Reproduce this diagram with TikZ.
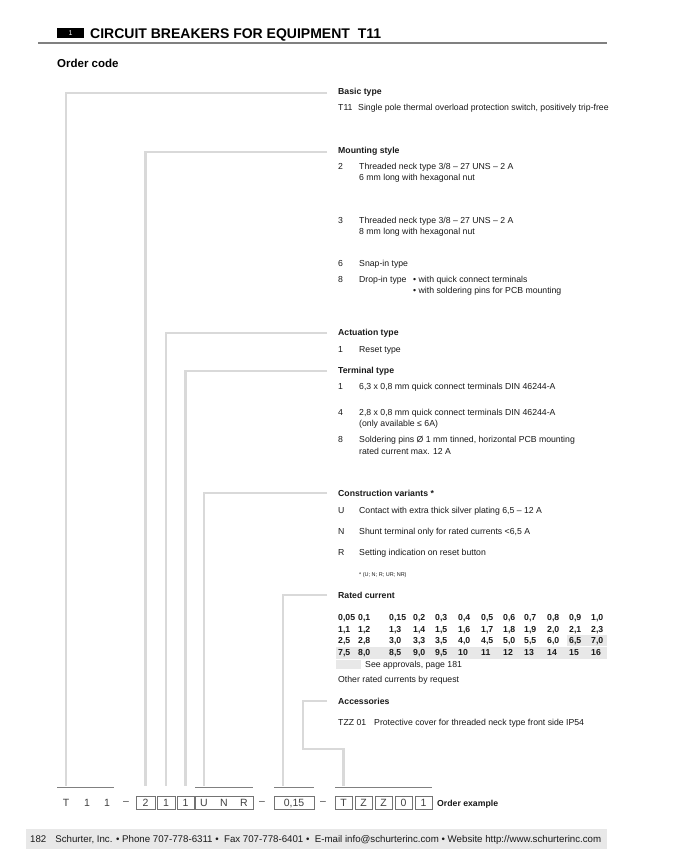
\documentclass[tikz,border=0pt]{standalone}
\usepackage{fontspec}
\setmainfont{Liberation Sans}
\newcommand\fsbody{\fontsize{8.7}{10}\selectfont}
\newcommand\fscode{\fontsize{10.5}{12}\selectfont}
\newcommand\fssmall{\fontsize{5.5}{6.5}\selectfont}
\begin{document}
\begin{tikzpicture}[x=1pt,y=-1pt,
  txt/.style={anchor=base west,inner sep=0pt,font=\fsbody,text=black!90},
  head/.style={txt,font=\fsbody\bfseries},
  tnum/.style={txt,font=\fsbody\bfseries},
  bracket/.style={draw=black!15,line width=2.2pt},
  topline/.style={draw=black!50,line width=0.6pt},
  cbox/.style={draw=black!55,line width=0.6pt,minimum height=13.5pt,inner sep=0pt,font=\fscode,text=black!75},
  cletter/.style={inner sep=0pt,font=\fscode,text=black!75},
  shade/.style={fill=black!9,draw=none}]
\useasboundingbox (0,0) rectangle (676,850);

% header
\node[fill=black,minimum width=27pt,minimum height=10pt,inner sep=0pt,text=white,font=\fontsize{7}{8}\selectfont] (badge) at (70.5,33.5) {1};
\node[anchor=base west,inner sep=0pt,font=\fontsize{14}{16}\selectfont\bfseries] (title) at (90,38.5) {CIRCUIT BREAKERS FOR EQUIPMENT\ \ T11};
\draw[draw=black!50,line width=1.2pt] (38,43) -- (607,43);
\node[anchor=base west,inner sep=0pt,font=\fontsize{11.5}{13}\selectfont\bfseries] (ordercode) at (57,68) {Order code};

% Basic type
\node[head] (hBasic) at (338,95) {Basic type};
\node[txt] (b1k) at (338,111) {T11};
\node[txt] (b1t) at (358,111) {Single pole thermal overload protection switch, positively trip-free};

% Mounting style
\node[head] (hMount) at (338,154) {Mounting style};
\node[txt] (m2k) at (338,170) {2};
\node[txt] (m2t) at (359,170) {Threaded neck type 3/8 – 27 UNS – 2 A};
\node[txt] (m2u) at (359,181) {6 mm long with hexagonal nut};
\node[txt] (m3k) at (338,223) {3};
\node[txt] (m3t) at (359,223) {Threaded neck type 3/8 – 27 UNS – 2 A};
\node[txt] (m3u) at (359,234) {8 mm long with hexagonal nut};
\node[txt] (m6k) at (338,266) {6};
\node[txt] (m6t) at (359,266) {Snap-in type};
\node[txt] (m8k) at (338,282) {8};
\node[txt] (m8t) at (359,282) {Drop-in type};
\node[txt] (m8a) at (413,282) {\textbullet\ with quick connect terminals};
\node[txt] (m8b) at (413,293) {\textbullet\ with soldering pins for PCB mounting};

% Actuation type
\node[head] (hAct) at (338,335) {Actuation type};
\node[txt] (a1k) at (338,352) {1};
\node[txt] (a1t) at (359,352) {Reset type};

% Terminal type
\node[head] (hTerm) at (338,373) {Terminal type};
\node[txt] (t1k) at (338,389) {1};
\node[txt] (t1t) at (359,389) {6,3 x 0,8 mm quick connect terminals DIN 46244-A};
\node[txt] (t4k) at (338,415) {4};
\node[txt] (t4t) at (359,415) {2,8 x 0,8 mm quick connect terminals DIN 46244-A};
\node[txt] (t4u) at (359,426) {(only available ≤ 6A)};
\node[txt] (t8k) at (338,442) {8};
\node[txt] (t8t) at (359,442) {Soldering pins Ø 1 mm tinned, horizontal PCB mounting};
\node[txt] (t8u) at (359,454) {rated current max. 12 A};

% Construction variants
\node[head] (hCons) at (338,496) {Construction variants *};
\node[txt] (cuk) at (338,513) {U};
\node[txt] (cut) at (359,513) {Contact with extra thick silver plating 6,5 – 12 A};
\node[txt] (cnk) at (338,534) {N};
\node[txt] (cnt) at (359,534) {Shunt terminal only for rated currents <6,5 A};
\node[txt] (crk) at (338,555) {R};
\node[txt] (crt) at (359,555) {Setting indication on reset button};
\node[txt,font=\fssmall] (cnote) at (359,576) {* (U; N; R; UR; NR)};

% Rated current
\node[head] (hRated) at (338,598) {Rated current};
\fill[shade] (567,635) rectangle (607,646);
\fill[shade] (336,647) rectangle (607,659);
\foreach \v [count=\c] in {{0,05},{0,1},{0,15},{0,2},{0,3},{0,4},{0,5},{0,6},{0,7},{0,8},{0,9},{1,0}}
  {\pgfmathsetmacro\cx{{338,358,389,413,435,458,481,503,524,547,569,591}[\c-1]}
   \node[tnum] (ra\c) at (\cx,620) {\v};}
\foreach \v [count=\c] in {{1,1},{1,2},{1,3},{1,4},{1,5},{1,6},{1,7},{1,8},{1,9},{2,0},{2,1},{2,3}}
  {\pgfmathsetmacro\cx{{338,358,389,413,435,458,481,503,524,547,569,591}[\c-1]}
   \node[tnum] (rb\c) at (\cx,632) {\v};}
\foreach \v [count=\c] in {{2,5},{2,8},{3,0},{3,3},{3,5},{4,0},{4,5},{5,0},{5,5},{6,0},{6,5},{7,0}}
  {\pgfmathsetmacro\cx{{338,358,389,413,435,458,481,503,524,547,569,591}[\c-1]}
   \node[tnum] (rc\c) at (\cx,643) {\v};}
\foreach \v [count=\c] in {{7,5},{8,0},{8,5},{9,0},{9,5},10,11,12,13,14,15,16}
  {\pgfmathsetmacro\cx{{338,358,389,413,435,458,481,503,524,547,569,591}[\c-1]}
   \node[tnum] (rd\c) at (\cx,655.5) {\v};}
\fill[shade] (336,660) rectangle (361,669);
\node[txt] (rsee) at (365,667) {See approvals, page 181};
\node[txt] (rother) at (338,682) {Other rated currents by request};

% Accessories
\node[head] (hAcc) at (338,704) {Accessories};
\node[txt] (acck) at (338,725) {TZZ 01};
\node[txt] (acct) at (374,725) {Protective cover for threaded neck type front side IP54};

% order example code row
\coordinate (barend) at (0,786);
\node[cletter] (cT) at (66,803) {T};
\node[cletter] (c1x) at (87,803) {1};
\node[cletter] (c1y) at (107,803) {1};
\node[cletter] (d1) at (126,802.5) {–};
\node[cbox,minimum width=19pt] (c2) at (145.5,803) {2};
\node[cbox,minimum width=18pt] (c1a) at (166,803) {1};
\node[cbox,minimum width=17pt] (c1b) at (185.5,803) {1};
\node[cbox,minimum width=58pt] (cUNR) at (224,803) {};
\node[cletter] (cU) at (204,803) {U};
\node[cletter] (cN) at (224,803) {N};
\node[cletter] (cR) at (244,803) {R};
\node[cletter] (d2) at (262,802.5) {–};
\node[cbox,minimum width=40pt] (c015) at (294,803) {0,15};
\node[cletter] (d3) at (323,802.5) {–};
\node[cbox,minimum width=17pt] (cTa) at (343.5,803) {T};
\node[cbox,minimum width=17pt] (cZa) at (363.5,803) {Z};
\node[cbox,minimum width=17pt] (cZb) at (383.5,803) {Z};
\node[cbox,minimum width=17pt] (cO) at (403.5,803) {0};
\node[cbox,minimum width=17pt] (c1c) at (423.5,803) {1};
\node[head] (oex) at (437,806.5) {Order example};
\draw[topline] (57,787) -- (114,787);
\draw[topline] (195,787) -- (253,787);
\draw[topline] (274,787) -- (314,787);
\draw[topline] (335,787) -- (432,787);

% brackets
\draw[bracket] ([xshift=-11pt]hBasic.west) -| (cT |- barend);
\draw[bracket] ([xshift=-11pt]hMount.west) -| (c2 |- barend);
\draw[bracket] ([xshift=-11pt]hAct.west) -| (c1a |- barend);
\draw[bracket] ([xshift=-11pt]hTerm.west) -| (c1b |- barend);
\draw[bracket] ([xshift=-11pt]hCons.west) -| (cU |- barend);
\coordinate (eR) at (283,786);
\draw[bracket] ([xshift=-11pt]hRated.west) -| (eR);
\coordinate (accCorner) at (303,749);
\draw[bracket] ([xshift=-11pt]hAcc.west) -| (accCorner) -| (cTa |- barend);

% footer
\fill[black!9] (26,829) rectangle (607,849);
\node[anchor=base west,inner sep=0pt,font=\fontsize{9.7}{11}\selectfont,text=black!90] (footer) at (30,842) {182\hspace{9pt}Schurter, Inc. \textbullet\ Phone 707-778-6311 \textbullet\ \ Fax 707-778-6401 \textbullet\ \ E-mail info@schurterinc.com \textbullet\ Website http://www.schurterinc.com};
\end{tikzpicture}
\end{document}
